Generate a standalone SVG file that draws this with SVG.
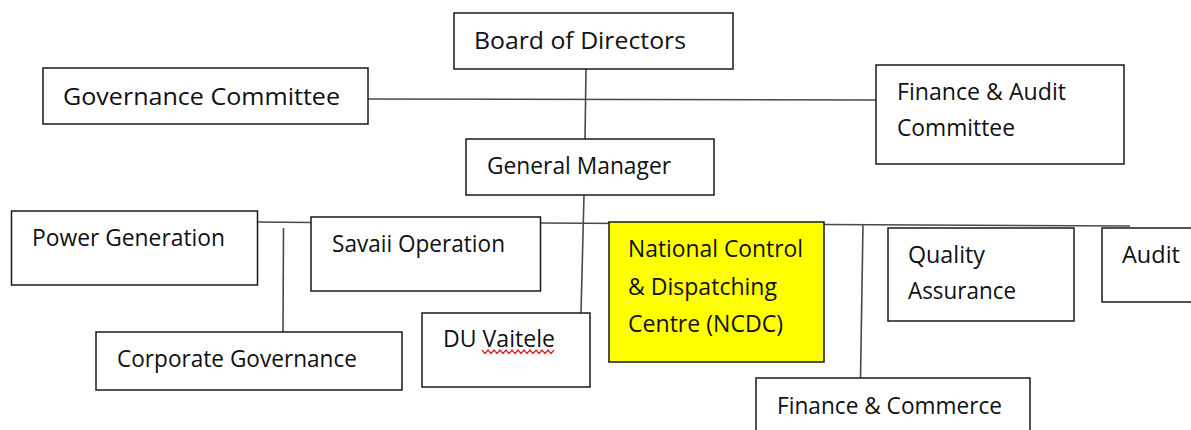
<svg xmlns="http://www.w3.org/2000/svg" width="1191" height="430" viewBox="0 0 1191 430">
<style>
.box{fill:#fff;stroke:#1a1a1a;stroke-width:1.5}
.hl{fill:#ffff00;stroke:#1a1a1a;stroke-width:1.5}
.ln{fill:none;stroke:#4a4a4a;stroke-width:1.6}
.t{font-family:"Open Sans","Noto Sans","Liberation Sans",sans-serif;font-size:23px;fill:#111}
</style>
<rect width="1191" height="430" fill="#fff"/>
<g id="connectors">
<line class="ln" x1="368" y1="99" x2="876" y2="100"/>
<line class="ln" x1="586" y1="69" x2="585" y2="139"/>
<line class="ln" x1="584" y1="195" x2="581" y2="313"/>
<polyline class="ln" points="257,222 311,222.5 540,223 824,224.5 1130,226"/>
<line class="ln" x1="283.5" y1="228" x2="283" y2="332"/>
<line class="ln" x1="863" y1="225" x2="860.5" y2="378"/>
</g>
<g id="board">
<rect class="box" x="454" y="13" width="279" height="56"/>
<text class="t" x="474" y="49" textLength="212" lengthAdjust="spacingAndGlyphs">Board of Directors</text>
</g>
<g id="governance-committee">
<rect class="box" x="43" y="68" width="325" height="56"/>
<text class="t" x="63" y="105" textLength="277" lengthAdjust="spacingAndGlyphs">Governance Committee</text>
</g>
<g id="finance-audit-committee">
<rect class="box" x="876" y="65" width="248" height="99"/>
<text class="t" x="897" y="100" textLength="169" lengthAdjust="spacingAndGlyphs">Finance &amp; Audit</text>
<text class="t" x="897" y="136" textLength="118" lengthAdjust="spacingAndGlyphs">Committee</text>
</g>
<g id="general-manager">
<rect class="box" x="466" y="139" width="248" height="56"/>
<text class="t" x="487" y="174" textLength="184" lengthAdjust="spacingAndGlyphs">General Manager</text>
</g>
<g id="power-generation">
<rect class="box" x="11.5" y="211" width="246" height="74"/>
<text class="t" x="32" y="246" textLength="193" lengthAdjust="spacingAndGlyphs">Power Generation</text>
</g>
<g id="savaii-operation">
<rect class="box" x="311" y="217" width="229.5" height="74"/>
<text class="t" x="332" y="252" textLength="173" lengthAdjust="spacingAndGlyphs">Savaii Operation</text>
</g>
<g id="ncdc">
<rect class="hl" x="609" y="222" width="215" height="140"/>
<text class="t" x="628" y="257" textLength="175" lengthAdjust="spacingAndGlyphs">National Control</text>
<text class="t" x="628" y="295" textLength="149" lengthAdjust="spacingAndGlyphs">&amp; Dispatching</text>
<text class="t" x="628" y="332" textLength="155" lengthAdjust="spacingAndGlyphs">Centre (NCDC)</text>
</g>
<g id="quality-assurance">
<rect class="box" x="888" y="228" width="186" height="93"/>
<text class="t" x="908" y="263" textLength="77" lengthAdjust="spacingAndGlyphs">Quality</text>
<text class="t" x="908" y="299" textLength="108" lengthAdjust="spacingAndGlyphs">Assurance</text>
</g>
<g id="audit">
<rect class="box" x="1102" y="228" width="100" height="74"/>
<text class="t" x="1122" y="263" textLength="58" lengthAdjust="spacingAndGlyphs">Audit</text>
</g>
<g id="corporate-governance">
<rect class="box" x="96" y="332" width="306" height="58"/>
<text class="t" x="117" y="367" textLength="240" lengthAdjust="spacingAndGlyphs">Corporate Governance</text>
</g>
<g id="du-vaitele">
<rect class="box" x="422" y="313" width="168" height="74"/>
<text class="t" x="443" y="347" textLength="112" lengthAdjust="spacingAndGlyphs">DU Vaitele</text>
<path d="M482,350 l3,3.5 3,-3.5 3,3.5 3,-3.5 3,3.5 3,-3.5 3,3.5 3,-3.5 3,3.5 3,-3.5 3,3.5 3,-3.5 3,3.5 3,-3.5 3,3.5 3,-3.5 3,3.5 3,-3.5 3,3.5 3,-3.5 3,3.5 3,-3.5 3,3.5 3,-3.5" fill="none" stroke="#e02020" stroke-width="1.2"/>
</g>
<g id="finance-commerce">
<rect class="box" x="756" y="378" width="274" height="70"/>
<text class="t" x="777" y="414" textLength="225" lengthAdjust="spacingAndGlyphs">Finance &amp; Commerce</text>
</g>
</svg>
